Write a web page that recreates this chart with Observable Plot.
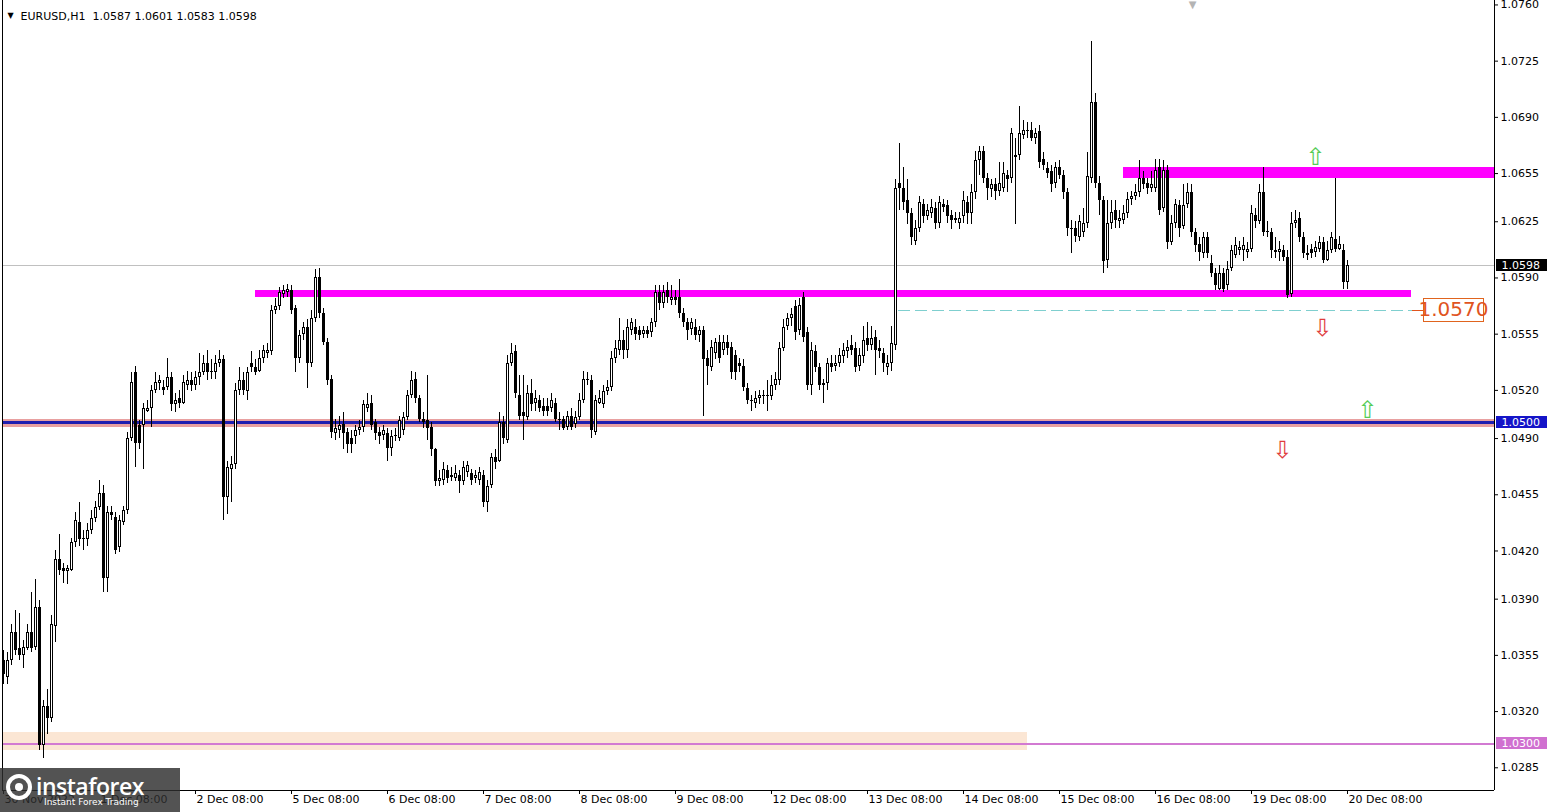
<!DOCTYPE html>
<html><head><meta charset="utf-8">
<script src="https://cdn.jsdelivr.net/npm/d3@7"></script>
<script src="https://cdn.jsdelivr.net/npm/@observablehq/plot@0.6"></script>
<style>
html,body{margin:0;padding:0;background:#fff;}
#wrap{position:relative;width:1549px;height:812px;overflow:hidden;font-family:"DejaVu Sans",sans-serif;}
#logo{position:absolute;left:0;top:768px;width:180px;height:44px;background:rgba(45,45,45,0.82);color:#fff;}
#logo .ic{position:absolute;left:6px;top:6px;width:26px;height:26px;border:4px solid #fff;border-radius:50%;box-sizing:border-box;}
#logo .ic:after{content:"";position:absolute;left:5px;top:5px;width:8px;height:8px;background:#fff;border-radius:50%;}
#logo .t1{position:absolute;left:36px;top:2px;font:600 23px "Open Sans",sans-serif;letter-spacing:-0.5px;}
#logo .t2{position:absolute;left:44px;top:29px;font:9px "DejaVu Sans",sans-serif;}
</style></head><body><div id="wrap"></div>
<script>
// ---------- DATA ----------
const symbol = "EURUSD,H1";
// hourly bars, index 0 = 30 Nov 2022 08:00
const open = [
1.0352,1.0341,1.0352,1.0369,1.0359,1.0355,1.0359,1.0369,1.0360,1.0385,1.0299,1.0323,1.0316,1.0373,1.0415,1.0409,1.0407,1.0408,1.0425,1.0438,1.0427,1.0427,1.0433,1.0440,
1.0447,1.0456,1.0403,1.0444,1.0441,1.0422,1.0438,1.0445,1.0490,1.0531,1.0498,1.0498,1.0507,1.0509,1.0520,1.0524,1.0522,1.0522,1.0528,1.0511,1.0515,1.0512,1.0523,1.0526,
1.0523,1.0528,1.0531,1.0537,1.0532,1.0531,1.0537,1.0539,1.0453,1.0471,1.0474,1.0520,1.0526,1.0519,1.0537,1.0534,1.0532,1.0540,1.0543,1.0544,1.0570,1.0572,1.0580,1.0581,
1.0582,1.0571,1.0540,1.0555,1.0559,1.0537,1.0565,1.0590,1.0568,1.0550,1.0527,1.0493,1.0495,1.0499,1.0494,1.0490,1.0491,1.0495,1.0497,1.0509,1.0512,1.0500,1.0494,1.0492,
1.0493,1.0484,1.0491,1.0490,1.0495,1.0503,1.0517,1.0527,1.0515,1.0502,1.0501,1.0497,1.0483,1.0463,1.0464,1.0470,1.0466,1.0465,1.0467,1.0463,1.0469,1.0468,1.0465,1.0464,
1.0467,1.0450,1.0461,1.0478,1.0476,1.0500,1.0489,1.0537,1.0544,1.0517,1.0506,1.0503,1.0518,1.0512,1.0514,1.0510,1.0510,1.0509,1.0512,1.0502,1.0502,1.0497,1.0504,1.0499,
1.0503,1.0514,1.0526,1.0526,1.0494,1.0512,1.0511,1.0519,1.0522,1.0540,1.0545,1.0551,1.0545,1.0557,1.0559,1.0557,1.0555,1.0557,1.0556,1.0562,1.0581,1.0574,1.0582,1.0576,
1.0578,1.0578,1.0568,1.0562,1.0558,1.0559,1.0554,1.0557,1.0540,1.0534,1.0543,1.0550,1.0545,1.0550,1.0547,1.0542,1.0537,1.0535,1.0521,1.0513,1.0512,1.0515,1.0516,1.0517,
1.0516,1.0523,1.0526,1.0546,1.0560,1.0565,1.0572,1.0557,1.0578,1.0556,1.0523,1.0544,1.0534,1.0523,1.0524,1.0537,1.0535,1.0537,1.0541,1.0544,1.0548,1.0546,1.0535,1.0541,
1.0552,1.0548,1.0553,1.0546,1.0543,1.0534,1.0537,1.0548,1.0649,1.0646,1.0638,1.0630,1.0613,1.0621,1.0636,1.0628,1.0630,1.0633,1.0624,1.0636,1.0635,1.0629,1.0627,1.0624,
1.0628,1.0637,1.0630,1.0643,1.0663,1.0669,1.0652,1.0645,1.0648,1.0644,1.0646,1.0654,1.0652,1.0666,1.0666,1.0679,1.0681,1.0682,1.0677,1.0681,1.0664,1.0658,1.0656,1.0649,
1.0659,1.0654,1.0643,1.0621,1.0621,1.0615,1.0618,1.0624,1.0652,1.0699,1.0649,1.0638,1.0601,1.0624,1.0632,1.0625,1.0626,1.0630,1.0639,1.0641,1.0643,1.0652,1.0649,1.0646,
1.0646,1.0659,1.0633,1.0657,1.0612,1.0624,1.0635,1.0622,1.0636,1.0643,1.0618,1.0611,1.0605,1.0615,1.0599,1.0593,1.0583,1.0593,1.0585,1.0596,1.0604,1.0607,1.0607,1.0606,
1.0608,1.0629,1.0625,1.0643,1.0618,1.0618,1.0606,1.0606,1.0607,1.0603,1.0580,1.0624,1.0627,1.0615,1.0604,1.0608,1.0606,1.0608,1.0612,1.0601,1.0607,1.0614,1.0608,1.0607,
1.0587];
const high = [
1.0358,1.0357,1.0374,1.0383,1.0381,1.0364,1.0374,1.0394,1.0402,1.0389,1.0327,1.0334,1.0380,1.0420,1.0430,1.0412,1.0411,1.0428,1.0444,1.0450,1.0433,1.0437,1.0445,1.0451,
1.0464,1.0461,1.0448,1.0448,1.0444,1.0442,1.0448,1.0494,1.0531,1.0535,1.0501,1.0512,1.0514,1.0523,1.0531,1.0529,1.0526,1.0540,1.0531,1.0518,1.0520,1.0529,1.0532,1.0531,
1.0532,1.0543,1.0542,1.0545,1.0539,1.0542,1.0545,1.0542,1.0476,1.0479,1.0524,1.0534,1.0531,1.0534,1.0544,1.0539,1.0545,1.0548,1.0549,1.0573,1.0577,1.0584,1.0585,1.0586,
1.0585,1.0573,1.0557,1.0562,1.0564,1.0570,1.0595,1.0596,1.0571,1.0552,1.0529,1.0502,1.0504,1.0506,1.0496,1.0495,1.0498,1.0501,1.0514,1.0518,1.0517,1.0502,1.0497,1.0498,
1.0496,1.0495,1.0496,1.0504,1.0506,1.0520,1.0532,1.0531,1.0517,1.0506,1.0529,1.0500,1.0484,1.0470,1.0475,1.0473,1.0472,1.0473,1.0470,1.0476,1.0476,1.0471,1.0470,1.0472,
1.0470,1.0464,1.0481,1.0483,1.0506,1.0504,1.0542,1.0549,1.0548,1.0529,1.0529,1.0523,1.0527,1.0520,1.0517,1.0515,1.0515,1.0518,1.0515,1.0506,1.0504,1.0507,1.0509,1.0507,
1.0518,1.0532,1.0531,1.0529,1.0517,1.0520,1.0523,1.0526,1.0544,1.0551,1.0565,1.0557,1.0564,1.0565,1.0564,1.0560,1.0560,1.0560,1.0565,1.0585,1.0585,1.0585,1.0587,1.0585,
1.0582,1.0589,1.0571,1.0565,1.0565,1.0564,1.0560,1.0560,1.0545,1.0551,1.0552,1.0554,1.0554,1.0554,1.0550,1.0545,1.0540,1.0539,1.0524,1.0517,1.0519,1.0520,1.0520,1.0526,
1.0529,1.0531,1.0550,1.0564,1.0568,1.0571,1.0576,1.0577,1.0581,1.0559,1.0550,1.0548,1.0537,1.0527,1.0540,1.0542,1.0542,1.0546,1.0549,1.0551,1.0554,1.0550,1.0546,1.0560,
1.0562,1.0560,1.0557,1.0551,1.0546,1.0542,1.0560,1.0651,1.0674,1.0659,1.0651,1.0633,1.0626,1.0641,1.0639,1.0636,1.0639,1.0637,1.0641,1.0639,1.0638,1.0632,1.0631,1.0631,
1.0644,1.0641,1.0648,1.0669,1.0672,1.0672,1.0655,1.0651,1.0652,1.0662,1.0662,1.0657,1.0683,1.0677,1.0697,1.0688,1.0687,1.0687,1.0683,1.0685,1.0668,1.0662,1.0660,1.0662,
1.0663,1.0657,1.0646,1.0626,1.0625,1.0629,1.0633,1.0668,1.0737,1.0705,1.0653,1.0641,1.0638,1.0638,1.0638,1.0632,1.0635,1.0643,1.0644,1.0648,1.0663,1.0656,1.0652,1.0656,
1.0664,1.0664,1.0663,1.0660,1.0629,1.0639,1.0638,1.0648,1.0649,1.0648,1.0621,1.0615,1.0618,1.0618,1.0604,1.0596,1.0598,1.0596,1.0600,1.0610,1.0615,1.0613,1.0615,1.0612,
1.0635,1.0633,1.0648,1.0659,1.0625,1.0621,1.0615,1.0613,1.0610,1.0607,1.0631,1.0632,1.0631,1.0618,1.0610,1.0611,1.0613,1.0616,1.0615,1.0613,1.0618,1.0652,1.0616,1.0611,
1.0601];
const low = [
1.0337,1.0337,1.0349,1.0355,1.0352,1.0347,1.0358,1.0357,1.0358,1.0296,1.0291,1.0306,1.0313,1.0363,1.0405,1.0400,1.0399,1.0407,1.0422,1.0423,1.0420,1.0423,1.0430,1.0438,
1.0445,1.0394,1.0394,1.0439,1.0418,1.0419,1.0436,1.0443,1.0488,1.0472,1.0483,1.0471,1.0506,1.0497,1.0518,1.0520,1.0517,1.0520,1.0507,1.0506,1.0509,1.0511,1.0520,1.0519,
1.0520,1.0523,1.0529,1.0526,1.0527,1.0527,1.0534,1.0439,1.0443,1.0450,1.0471,1.0517,1.0517,1.0514,1.0531,1.0529,1.0531,1.0537,1.0540,1.0542,1.0567,1.0570,1.0577,1.0578,
1.0567,1.0531,1.0537,1.0551,1.0521,1.0534,1.0562,1.0565,1.0548,1.0523,1.0490,1.0489,1.0490,1.0483,1.0481,1.0481,1.0486,1.0492,1.0494,1.0506,1.0495,1.0489,1.0486,1.0489,
1.0476,1.0479,1.0488,1.0488,1.0492,1.0501,1.0515,1.0512,1.0500,1.0496,1.0489,1.0479,1.0460,1.0460,1.0461,1.0462,1.0463,1.0463,1.0456,1.0461,1.0466,1.0461,1.0462,1.0461,
1.0447,1.0444,1.0459,1.0471,1.0475,1.0486,1.0487,1.0535,1.0515,1.0501,1.0489,1.0501,1.0507,1.0507,1.0506,1.0504,1.0504,1.0506,1.0500,1.0495,1.0495,1.0495,1.0495,1.0496,
1.0501,1.0512,1.0523,1.0490,1.0492,1.0511,1.0509,1.0517,1.0519,1.0537,1.0542,1.0539,1.0540,1.0554,1.0551,1.0551,1.0552,1.0552,1.0553,1.0559,1.0570,1.0571,1.0574,1.0573,
1.0573,1.0565,1.0559,1.0551,1.0554,1.0551,1.0550,1.0504,1.0523,1.0532,1.0539,1.0537,1.0542,1.0542,1.0527,1.0526,1.0531,1.0519,1.0511,1.0507,1.0509,1.0511,1.0511,1.0507,
1.0514,1.0520,1.0523,1.0544,1.0557,1.0560,1.0551,1.0554,1.0550,1.0520,1.0517,1.0531,1.0520,1.0512,1.0520,1.0531,1.0532,1.0534,1.0537,1.0540,1.0542,1.0531,1.0532,1.0537,
1.0544,1.0545,1.0529,1.0540,1.0531,1.0529,1.0532,1.0545,1.0632,1.0632,1.0623,1.0610,1.0610,1.0618,1.0624,1.0626,1.0627,1.0620,1.0621,1.0631,1.0624,1.0620,1.0624,1.0620,
1.0624,1.0623,1.0623,1.0639,1.0654,1.0649,1.0638,1.0640,1.0638,1.0641,1.0643,1.0643,1.0649,1.0623,1.0663,1.0676,1.0677,1.0675,1.0673,1.0658,1.0657,1.0652,1.0643,1.0646,
1.0651,1.0639,1.0616,1.0605,1.0612,1.0613,1.0615,1.0621,1.0649,1.0646,1.0629,1.0593,1.0596,1.0620,1.0621,1.0621,1.0623,1.0627,1.0635,1.0638,1.0640,1.0645,1.0642,1.0643,
1.0643,1.0629,1.0631,1.0608,1.0610,1.0621,1.0615,1.0620,1.0633,1.0615,1.0606,1.0600,1.0602,1.0602,1.0590,1.0582,1.0582,1.0581,1.0582,1.0594,1.0602,1.0604,1.0600,1.0602,
1.0606,1.0621,1.0623,1.0616,1.0615,1.0602,1.0602,1.0600,1.0600,1.0577,1.0578,1.0621,1.0612,1.0602,1.0601,1.0602,1.0603,1.0606,1.0599,1.0600,1.0605,1.0606,1.0607,1.0583,
1.0583];
const close = [
1.0343,1.0352,1.0369,1.0358,1.0355,1.0360,1.0369,1.0359,1.0385,1.0299,1.0323,1.0316,1.0374,1.0415,1.0408,1.0407,1.0409,1.0425,1.0439,1.0427,1.0428,1.0433,1.0440,1.0447,
1.0456,1.0403,1.0444,1.0442,1.0420,1.0439,1.0445,1.0490,1.0525,1.0487,1.0487,1.0509,1.0509,1.0520,1.0525,1.0526,1.0520,1.0528,1.0511,1.0514,1.0512,1.0525,1.0526,1.0523,
1.0528,1.0531,1.0537,1.0531,1.0531,1.0537,1.0539,1.0453,1.0472,1.0474,1.0520,1.0526,1.0520,1.0531,1.0534,1.0531,1.0540,1.0545,1.0545,1.0570,1.0572,1.0581,1.0582,1.0583,
1.0570,1.0540,1.0554,1.0559,1.0537,1.0565,1.0590,1.0568,1.0550,1.0526,1.0494,1.0496,1.0498,1.0493,1.0486,1.0486,1.0495,1.0497,1.0511,1.0511,1.0498,1.0493,1.0491,1.0495,
1.0484,1.0491,1.0492,1.0501,1.0503,1.0517,1.0526,1.0515,1.0502,1.0500,1.0496,1.0483,1.0463,1.0465,1.0471,1.0465,1.0467,1.0468,1.0463,1.0472,1.0473,1.0464,1.0467,1.0469,
1.0450,1.0460,1.0478,1.0475,1.0500,1.0490,1.0537,1.0543,1.0518,1.0504,1.0504,1.0518,1.0511,1.0515,1.0509,1.0507,1.0507,1.0514,1.0502,1.0501,1.0496,1.0504,1.0497,1.0503,
1.0514,1.0527,1.0527,1.0495,1.0514,1.0515,1.0519,1.0522,1.0540,1.0546,1.0551,1.0545,1.0559,1.0562,1.0555,1.0554,1.0557,1.0555,1.0562,1.0581,1.0574,1.0581,1.0578,1.0578,
1.0576,1.0568,1.0562,1.0557,1.0562,1.0554,1.0557,1.0539,1.0535,1.0547,1.0550,1.0540,1.0550,1.0546,1.0531,1.0531,1.0535,1.0522,1.0514,1.0514,1.0515,1.0517,1.0517,1.0516,
1.0523,1.0527,1.0546,1.0559,1.0565,1.0567,1.0556,1.0573,1.0553,1.0523,1.0545,1.0534,1.0523,1.0524,1.0537,1.0534,1.0537,1.0542,1.0545,1.0547,1.0545,1.0534,1.0542,1.0551,
1.0548,1.0552,1.0545,1.0544,1.0537,1.0537,1.0549,1.0646,1.0646,1.0637,1.0630,1.0615,1.0621,1.0637,1.0628,1.0632,1.0634,1.0624,1.0637,1.0634,1.0628,1.0626,1.0626,1.0627,
1.0638,1.0630,1.0643,1.0663,1.0669,1.0652,1.0646,1.0648,1.0644,1.0649,1.0655,1.0651,1.0680,1.0665,1.0680,1.0682,1.0682,1.0677,1.0680,1.0662,1.0660,1.0655,1.0648,1.0659,
1.0654,1.0643,1.0621,1.0620,1.0616,1.0625,1.0624,1.0653,1.0699,1.0649,1.0638,1.0600,1.0624,1.0631,1.0626,1.0627,1.0630,1.0639,1.0641,1.0643,1.0652,1.0648,1.0646,1.0648,
1.0657,1.0632,1.0657,1.0612,1.0624,1.0636,1.0621,1.0635,1.0643,1.0618,1.0610,1.0606,1.0615,1.0605,1.0593,1.0585,1.0593,1.0583,1.0595,1.0607,1.0610,1.0609,1.0610,1.0608,
1.0630,1.0625,1.0643,1.0618,1.0619,1.0607,1.0607,1.0608,1.0603,1.0579,1.0624,1.0626,1.0615,1.0605,1.0605,1.0605,1.0609,1.0612,1.0601,1.0607,1.0615,1.0608,1.0611,1.0587,
1.0598];
const xTickIdx = [0,24,48,72,96,120,144,168,192,216,240,264,288,312,336];
const xTickLabels = ["30 Nov 2022","1 Dec 08:00","2 Dec 08:00","5 Dec 08:00","6 Dec 08:00","7 Dec 08:00","8 Dec 08:00","9 Dec 08:00","12 Dec 08:00","13 Dec 08:00","14 Dec 08:00","15 Dec 08:00","16 Dec 08:00","19 Dec 08:00","20 Dec 08:00"];
const yTicks = [1.0760,1.0725,1.0690,1.0655,1.0625,1.0590,1.0555,1.0520,1.0490,1.0455,1.0420,1.0390,1.0355,1.0320,1.0285];
// drawn objects (time index / price)
const zones = [
  {from: 280, to: 372.75, lo: 1.0652, hi: 1.0659, color: "#ff00ff"},
  {from: 63, to: 352, lo: 1.0578, hi: 1.0582, color: "#ff00ff"},
  {from: -0.25, to: 256, lo: 1.0296, hi: 1.0307, color: "#fbe6d4"}
];
const keyLevel = 1.0570, keyFrom = 223.75, keyTo = 352.25;
const roundLevel = 1.0500, lowLevel = 1.0300;
const arrows = [
  {i: 328, p: 1.0665, dir: "up"},
  {i: 329.75, p: 1.05585, dir: "down"},
  {i: 341, p: 1.05075, dir: "up"},
  {i: 319.75, p: 1.04826, dir: "down"}
];
const axisTags = [
  {p: close[close.length-1], bg: "#000000"},
  {p: roundLevel, bg: "#1414c8"},
  {p: lowLevel, bg: "#d070d0"}
];

// ---------- CHART ----------
const yTop = 1.05 + 422/16060, yBot = 1.05 - 368/16060;
const pxP = 1/16060;
const candles = open.map((o, i) => {
  const h = high[i], l = low[i], c = close[i];
  let bot = Math.min(o, c), top = Math.max(o, c);
  if (top - bot < pxP) top = bot + pxP;
  return {i, o, h, l, c, bull: c >= o, bot, top};
});
const bulls = candles.filter(d => d.bull && d.top - d.bot > 2.5 * pxP);
const last = candles[candles.length-1];
const title = `${symbol}  ${last.o.toFixed(4)} ${last.h.toFixed(4)} ${last.l.toFixed(4)} ${last.c.toFixed(4)}`;
const crisp = {shapeRendering: "crispEdges"};

const chart = Plot.plot({
  width: 1549, height: 812,
  marginLeft: 2, marginRight: 55, marginTop: 0, marginBottom: 22,
  x: {type: "linear", domain: [-0.25, 372.75], axis: null},
  y: {type: "linear", domain: [yBot, yTop], axis: null},
  style: {background: "white", fontFamily: "DejaVu Sans", fontSize: "11px", color: "black", overflow: "visible"},
  marks: [
    Plot.rect(zones, {x1: "from", x2: "to", y1: "lo", y2: "hi", fill: "color", ...crisp}),
    Plot.ruleY([lowLevel], {stroke: "#d27ad2", strokeWidth: 2, ...crisp}),
    Plot.ruleY([roundLevel], {stroke: "#e8a0a0", strokeWidth: 8, ...crisp}),
    Plot.ruleY([roundLevel], {stroke: "#1e1eb0", strokeWidth: 3, ...crisp}),
    Plot.ruleY([last.c], {stroke: "#c0c0c0", strokeWidth: 1, ...crisp}),
    Plot.ruleY([keyLevel], {x1: keyFrom, x2: keyTo, stroke: "#7fcfcf", strokeDasharray: "12,5", ...crisp}),
    Plot.ruleY([keyLevel], {x1: keyTo, x2: 355, stroke: "#e0541e", ...crisp}),
    // candles: wick, body, hollow inside of bullish bodies
    Plot.ruleX(candles, {x: "i", y1: "l", y2: "h", stroke: "black", strokeWidth: 1, ...crisp}),
    Plot.ruleX(candles, {x: "i", y1: "bot", y2: "top", stroke: "black", strokeWidth: 3, ...crisp}),
    Plot.ruleX(bulls, {x: "i", y1: d => d.bot + pxP, y2: d => d.top - pxP, stroke: "white", strokeWidth: 1, ...crisp}),
    // level label
    Plot.rect([keyLevel], {x1: 355, x2: 370, y1: d => d - 12*pxP, y2: d => d + 11*pxP, fill: "white", stroke: "#e0641e", strokeWidth: 1, ...crisp}),
    Plot.text([keyLevel], {x: 362.5, y: d => d, text: d => d.toFixed(4), fill: "#e0541e", fontSize: 20, fontFamily: "DejaVu Sans"}),
    // arrows
    Plot.text(arrows, {x: "i", y: "p", text: d => d.dir === "up" ? "\u21E7" : "\u21E9",
      fill: d => d.dir === "up" ? "#55cc55" : "#e03c3c", fontSize: 24}),
    // frame
    Plot.ruleX([-0.25, 372.75], {stroke: "black", ...crisp}),
    Plot.ruleY([yBot], {stroke: "black", ...crisp}),
    // right axis
    Plot.axisY({anchor: "right", ticks: yTicks, tickFormat: d => d.toFixed(4), tickSize: 3, tickPadding: 3, fontSize: 11, label: null}),
    Plot.rect(axisTags, {x1: 373.25, x2: 386, y1: d => d.p - 6*pxP, y2: d => d.p + 6*pxP, fill: "bg", ...crisp}),
    Plot.text(axisTags, {x: 374.5, y: "p", text: d => d.p.toFixed(4), fill: "white", textAnchor: "start", fontSize: 11}),
    // bottom axis
    Plot.ruleX(xTickIdx, {x: d => d, y1: yBot, y2: yBot - 4*pxP, stroke: "black", ...crisp}),
    Plot.text(xTickIdx, {x: d => d, text: (d, i) => xTickLabels[i], frameAnchor: "bottom", dy: 12, dx: 1, textAnchor: "start", fontSize: 11}),
    // title and shift marker
    Plot.text([title], {frameAnchor: "top-left", dx: 18, dy: 12, textAnchor: "start", fontSize: 11}),
    Plot.text(["\u25BC"], {frameAnchor: "top-left", dx: 5, dy: 12, textAnchor: "start", fontSize: 8}),
    Plot.text(["\u25BC"], {x: 297.25, frameAnchor: "top", dy: 0, lineAnchor: "top", fill: "#b4b4b4", fontSize: 10})
  ]
});
const wrap = document.getElementById("wrap");
wrap.appendChild(chart);
const logo = document.createElement("div");
logo.id = "logo";
logo.innerHTML = '<div class="ic"></div><div class="t1">instaforex</div><div class="t2">Instant Forex Trading</div>';
wrap.appendChild(logo);
</script>
</body></html>
